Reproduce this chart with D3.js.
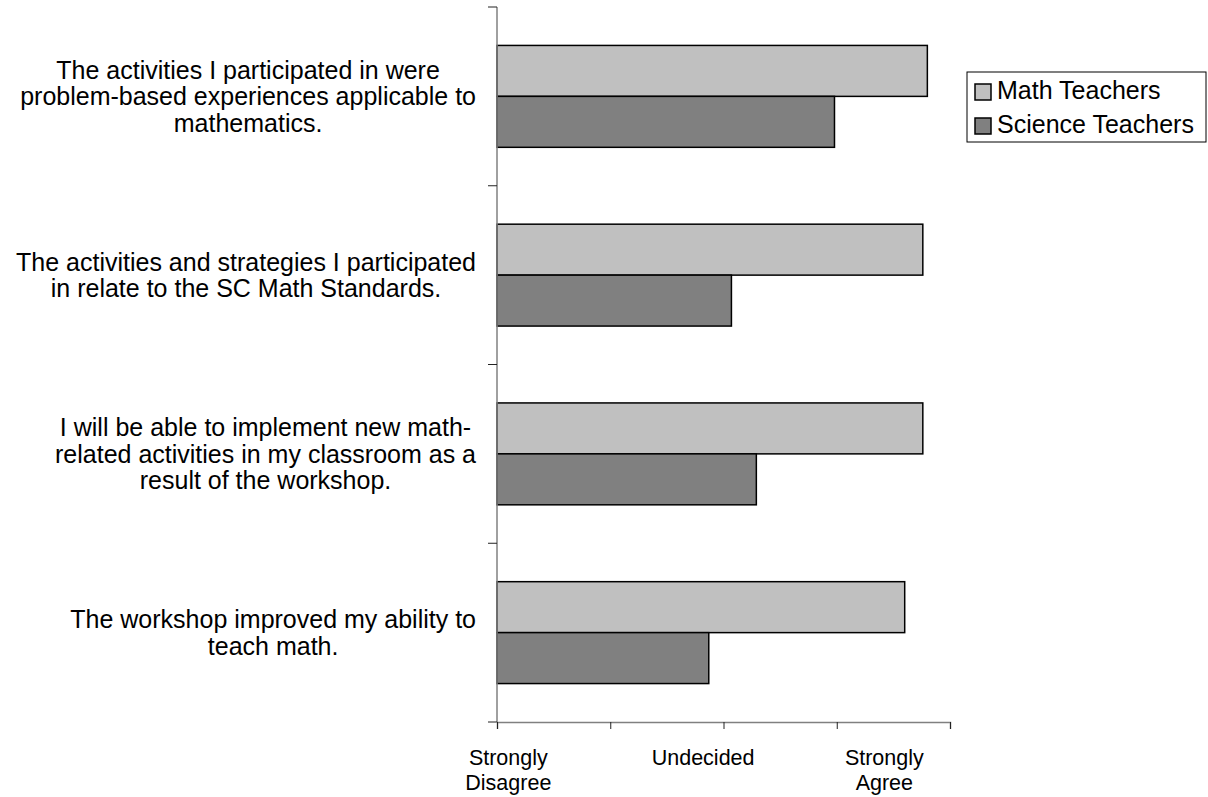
<!DOCTYPE html>
<html>
<head>
<meta charset="utf-8">
<script src="https://cdn.jsdelivr.net/npm/d3@7"></script>
<style>
  body { margin: 0; background: #fff; }
  text { font-family: "Liberation Sans", Arial, sans-serif; fill: #000; }
</style>
</head>
<body>
<div id="chart"></div>
<script>
// statements, top to bottom, already broken into lines as in the chart
var categories = [
    ['The activities I participated in were', 'problem-based experiences applicable to', 'mathematics.'],
    ['The activities and strategies I participated', 'in relate to the SC Math Standards.'],
    ['I will be able to implement new math-', 'related activities in my classroom as a', 'result of the workshop.'],
    ['The workshop improved my ability to', 'teach math.']
]
var series = ['Math Teachers', 'Science Teachers']
var mathValues = [4.80, 4.76, 4.76, 4.60]
var scienceValues = [3.98, 3.07, 3.29, 2.87]
var colors = ['#c0c0c0', '#808080']

var xTicks = [1, 2, 3, 4, 5]
var xLabels = [['Strongly', 'Disagree'], ['Undecided'], ['Strongly', 'Agree']]
var xLabelAt = [1.1, 2.82, 4.42]

var width = 1208, height = 797;
var svg = d3.select('#chart').append('svg')
    .attr('width', width)
    .attr('height', height);

// plot box (window.top is read-only, so no "top" here)
var plotL = 497, plotR = 950, plotT = 7, plotB = 722;

var x = d3.scaleLinear().domain([1, 5]).range([plotL, plotR]);
var keys = categories.map(function (d, i) { return i });
var y = d3.scaleBand().domain(keys).range([plotT, plotB])
    .paddingInner(0.43).paddingOuter(0.215);
var y1 = d3.scaleBand().domain(series).range([0, y.bandwidth()]);

var data = keys.map(function (i) {
    return { cat: i, values: [mathValues[i], scienceValues[i]] }
});

// bars
var groups = svg.append('g').selectAll('g')
    .data(data)
    .enter()
    .append('g')
    .attr('transform', function (d) { return 'translate(0,' + y(d.cat) + ')' });

groups.selectAll('rect')
    .data(function (d) { return d.values.map(function (v, j) { return { s: series[j], v: v, j: j } }) })
    .enter()
    .append('rect')
    .attr('x', x(1))
    .attr('y', function (d) { return y1(d.s) })
    .attr('width', function (d) { return x(d.v) - x(1) })
    .attr('height', y1.bandwidth())
    .style('fill', function (d) { return colors[d.j] })
    .style('stroke', '#000')
    .style('stroke-width', 1.5);

// y axis
var step = y.step();
svg.append('line')
    .attr('x1', plotL).attr('x2', plotL)
    .attr('y1', plotT).attr('y2', plotB)
    .style('stroke', '#808080').style('stroke-width', 1.5);
svg.append('g').selectAll('line')
    .data(d3.range(categories.length + 1))
    .enter()
    .append('line')
    .attr('x1', plotL - 9).attr('x2', plotL)
    .attr('y1', function (i) { return plotT + i * step })
    .attr('y2', function (i) { return plotT + i * step })
    .style('stroke', '#222').style('stroke-width', 1);

// x axis
var xAxis = d3.axisBottom(x).tickValues(xTicks).tickSize(7).tickFormat('');
var gx = svg.append('g')
    .attr('transform', 'translate(0,' + plotB + ')')
    .call(xAxis);
gx.select('.domain').style('stroke', '#808080').style('stroke-width', 1.5);
gx.selectAll('.tick line').style('stroke', '#222');

// x labels
var xl = svg.append('g').selectAll('text')
    .data(xLabels)
    .enter()
    .append('text')
    .attr('text-anchor', 'middle')
    .style('font-size', '21.5px')
    .attr('x', function (d, i) { return x(xLabelAt[i]) })
    .attr('y', 765);
xl.selectAll('tspan')
    .data(function (d) { return d })
    .enter()
    .append('tspan')
    .attr('x', function () { return d3.select(this.parentNode).attr('x') })
    .attr('dy', function (d, i) { return i === 0 ? 0 : 24.5 })
    .text(function (d) { return d });

// category labels: lines centred inside a block right-aligned at 476
var lineH = 26.5;
var labelRight = 476;
categories.forEach(function (lines, i) {
    var g = svg.append('g');
    var cy = y(i) + y.bandwidth() / 2;
    var t = g.selectAll('text')
        .data(lines)
        .enter()
        .append('text')
        .attr('text-anchor', 'middle')
        .style('font-size', '25px')
        .attr('y', function (d, k) { return cy + (k - (lines.length - 1) / 2) * lineH })
        .attr('dy', '0.35em')
        .text(function (d) { return d });
    var maxW = 0;
    t.each(function () { maxW = Math.max(maxW, this.getComputedTextLength()) });
    t.attr('x', labelRight - maxW / 2);
});

// legend
var legend = svg.append('g').attr('transform', 'translate(967,72)');
legend.append('rect')
    .attr('width', 239).attr('height', 70)
    .style('fill', '#fff').style('stroke', '#000').style('stroke-width', 1);
var items = legend.selectAll('g.item')
    .data(series)
    .enter()
    .append('g')
    .attr('class', 'item')
    .attr('transform', function (d, i) { return 'translate(8,' + (12 + i * 34) + ')' });
items.append('rect')
    .attr('width', 16).attr('height', 16)
    .style('fill', function (d, i) { return colors[i] })
    .style('stroke', '#000').style('stroke-width', 1.5);
items.append('text')
    .attr('x', 22).attr('y', 15)
    .style('font-size', '25px')
    .text(function (d) { return d });
</script>
</body>
</html>
